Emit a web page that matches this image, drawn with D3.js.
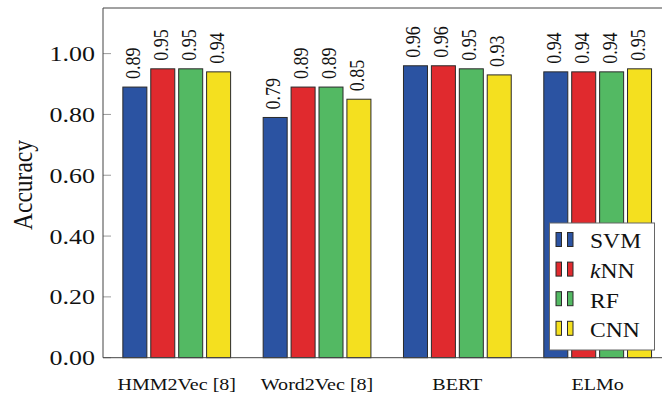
<!DOCTYPE html>
<html>
<head>
<meta charset="utf-8">
<script src="https://cdn.jsdelivr.net/npm/d3@7"></script>
<style>
  body { margin: 0; background: white; }
  text { font-family: "Liberation Serif", "DejaVu Serif", serif; fill: #111; }
</style>
</head>
<body>
<div id="chart"></div>
<script>
const categories = ["HMM2Vec [8]", "Word2Vec [8]", "BERT", "ELMo"];
const series = ["SVM", "kNN", "RF", "CNN"];
const svmValues = [0.89, 0.79, 0.96, 0.94];
const knnValues = [0.95, 0.89, 0.96, 0.94];
const rfValues  = [0.95, 0.89, 0.95, 0.94];
const cnnValues = [0.94, 0.85, 0.93, 0.95];
const yTicks = [0, 0.2, 0.4, 0.6, 0.8, 1.0];

const colors = {SVM: "#2b53a2", kNN: "#e02a2e", RF: "#53b963", CNN: "#f4e01f"};
const valuesBySeries = {SVM: svmValues, kNN: knnValues, RF: rfValues, CNN: cnnValues};

const width = 662, height = 398;
const margin = {top: 8, left: 103, bottom: 40.3};
const plotRight = 671.4;   // frame runs past the picture edge
const sx = 1.18;           // glyphs in the source are stretched sideways

const data = [];
categories.forEach((c, i) => {
  series.forEach(s => data.push({cat: c, series: s, value: valuesBySeries[s][i]}));
});

const svg = d3.select("#chart")
  .append("svg")
  .attr("width", width)
  .attr("height", height);

const x0 = d3.scaleBand()
  .domain(categories)
  .range([margin.left, plotRight])
  .paddingInner(0.232)
  .paddingOuter(0.1415);

const x1 = d3.scaleBand()
  .domain(series)
  .range([0, x0.bandwidth()])
  .paddingInner(0.14)
  .paddingOuter(0);

const y = d3.scaleLinear()
  .domain([0, 1.15])
  .range([height - margin.bottom, margin.top]);

// y ticks (inside, gray)
svg.append("g")
  .selectAll("line")
  .data(yTicks)
  .enter().append("line")
    .attr("x1", margin.left)
    .attr("x2", margin.left + 8)
    .attr("y1", d => y(d))
    .attr("y2", d => y(d))
    .attr("stroke", "#9a9a9a")
    .attr("stroke-width", 1);

svg.append("g")
  .selectAll("text")
  .data(yTicks)
  .enter().append("text")
    .attr("transform", d => `translate(95,${y(d) + 7.5}) scale(${sx},1)`)
    .attr("text-anchor", "end")
    .style("font-size", "22px")
    .text(d => d.toFixed(2));

// bars
svg.append("g")
  .selectAll("rect")
  .data(data)
  .enter().append("rect")
    .attr("x", d => x0(d.cat) + x1(d.series))
    .attr("y", d => y(d.value))
    .attr("width", x1.bandwidth())
    .attr("height", d => y(0) - y(d.value))
    .attr("fill", d => colors[d.series])
    .attr("stroke", "#2a2a2a")
    .attr("stroke-width", 1);

// value labels
svg.append("g")
  .selectAll("text")
  .data(data)
  .enter().append("text")
    .attr("transform", d => {
      const cx = x0(d.cat) + x1(d.series) + x1.bandwidth() / 2 + 5;
      return `translate(${cx},${y(d.value) - 8}) scale(${sx},1) rotate(-90)`;
    })
    .attr("text-anchor", "start")
    .style("font-size", "18px")
    .text(d => d.value.toFixed(2));

// frame
svg.append("line")
  .attr("x1", margin.left).attr("x2", plotRight)
  .attr("y1", margin.top).attr("y2", margin.top)
  .attr("stroke", "#444");
svg.append("line")
  .attr("x1", margin.left).attr("x2", plotRight)
  .attr("y1", y(0)).attr("y2", y(0))
  .attr("stroke", "#444");
svg.append("line")
  .attr("x1", margin.left).attr("x2", margin.left)
  .attr("y1", margin.top).attr("y2", y(0))
  .attr("stroke", "#444");

// category labels
svg.append("g")
  .selectAll("text")
  .data(categories)
  .enter().append("text")
    .attr("transform", d => `translate(${x0(d) + x0.bandwidth() / 2},390) scale(${sx},1)`)
    .attr("text-anchor", "middle")
    .style("font-size", "17px")
    .text(d => d);

// y axis title
svg.append("text")
  .attr("transform", `translate(31.5,185) scale(${sx},1) rotate(-90)`)
  .attr("text-anchor", "middle")
  .style("font-size", "23.5px")
  .text("Accuracy");

// legend
const legend = svg.append("g");
legend.append("rect")
  .attr("x", 549.5).attr("y", 223)
  .attr("width", 105).attr("height", 127)
  .attr("fill", "white")
  .attr("stroke", "#666")
  .attr("stroke-width", 1);

const rowY = d3.scalePoint()
  .domain(series)
  .range([241.5, 330.3]);

series.forEach(s => {
  const ry = rowY(s);
  [556, 567.5].forEach(lx => {
    legend.append("rect")
      .attr("x", lx).attr("y", ry - 9)
      .attr("width", 5.5).attr("height", 14)
      .attr("fill", colors[s])
      .attr("stroke", "#2a2a2a")
      .attr("stroke-width", 1);
  });
  const t = legend.append("text")
    .attr("transform", `translate(590,${ry + 6.8}) scale(${sx},1)`)
    .style("font-size", "20px");
  if (s === "kNN") {
    t.append("tspan").style("font-style", "italic").text("k");
    t.append("tspan").text("NN");
  } else {
    t.text(s);
  }
});
</script>
</body>
</html>
